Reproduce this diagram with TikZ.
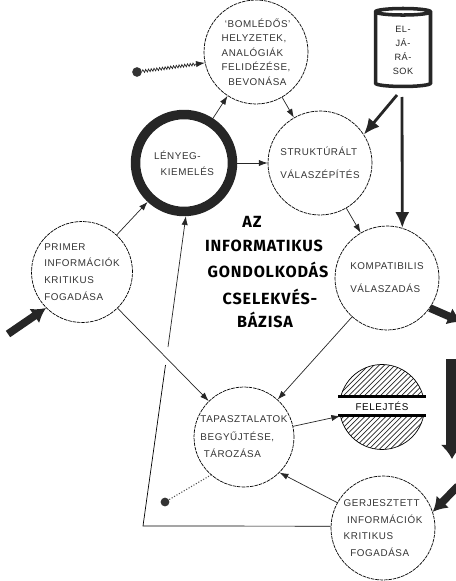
\documentclass[tikz,border=0pt]{standalone}
\usepackage{fontspec}
\setmainfont{Liberation Sans}[LetterSpace=6]
\newfontfamily\titlefont{Fira Sans}[LetterSpace=5]
\usetikzlibrary{arrows,arrows.meta,patterns,shapes.geometric,decorations.pathmorphing}
\tikzset{
stepcirc/.style={circle,draw,thin,dash pattern=on 2pt off .5pt,minimum size=2.08cm,inner sep=0pt,align=left,
  font=\fontsize{5.6}{#1}\selectfont,text=black!80},
stepcirc/.default=9,
flow/.style={thin,black!85,-{Latex[length=5pt,width=3.5pt]}},
heavy/.style={line width=1.6pt,black!85,-{Latex[length=9pt,width=8pt]}},
massive/.style={line width=4.4pt,black!85,-{Latex[length=8pt,width=10pt]}},
titleline/.style={font=\titlefont\bfseries\fontsize{9.2}{10}\selectfont,inner sep=0pt},
pinhead/.style={circle,fill=black!80,minimum size=5.5pt,inner sep=0pt}
}
\begin{document}
\begin{tikzpicture}[x=0.02cm,y=-0.02cm,semithick]
\useasboundingbox(0,0)rectangle(456,581);
% circles
\node[stepcirc=8.2](recall)at(256,52){\ `BOMLÉDŐS'\\HELYZETEK,\\ANALÓGIÁK\\FELIDÉZÉSE,\\\ \ BEVONÁSA};
\node[stepcirc,draw=black!85,line width=5.4pt,solid,minimum size=1.94cm](lenyeg)at(184,163){LÉNYEG-\\\ \ KIEMELÉS};
\node[stepcirc=13](strukt)at(320,163){STRUKTÚRÁLT\\VÁLASZÉPÍTÉS};
\node[stepcirc=9.5,minimum size=2.02cm](primer)at(82,272){PRIMER\\INFORMÁCIÓK\\KRITIKUS\\FOGADÁSA};
\node[stepcirc=13](kompat)at(387,278){KOMPATIBILIS\\VÁLASZADÁS};
\node[stepcirc=10,minimum size=2cm](tapaszt)at(244,437){TAPASZTALATOK\\BEGYŰJTÉSE,\\\ TÁROZÁSA};
\node[stepcirc=9.5](gerj)at(383,528){GERJESZTETT\\\ INFORMÁCIÓK\\KRITIKUS\\\ \ FOGADÁSA};
\node[circle,draw,thin,pattern=north east lines,pattern color=black!85,minimum size=1.7cm,inner sep=0pt](felejt)at(382,407){};
\node[fill=white,minimum width=1.72cm,minimum height=.34cm,inner sep=0pt,font=\fontsize{5.6}{6}\selectfont](band)at(382,406){FELEJTÉS};
\draw[line width=1.7pt](band.north west)--(band.north east)(band.south west)--(band.south east);
% store
\node[cylinder,shape border rotate=90,draw,line width=2pt,black!85,aspect=.32,minimum width=1.1cm,minimum height=1.56cm,inner sep=0pt,
  align=center,font=\fontsize{5.2}{8}\selectfont](eljar)at(403,50){EL-\\JÁ-\\RÁ-\\SOK};
% title
\node[titleline](tA)at(252,222){AZ};
\node[titleline](tB)at(264,246){INFORMATIKUS};
\node[titleline](tC)at(268,270){GONDOLKODÁS};
\node[titleline](tD)at(270,297){CSELEKVÉS-};
\node[titleline](tE)at(265,320){BÁZISA};
% free ends
\coordinate(inL)at(8,334);
\coordinate(outR)at(462,322);
\coordinate(downA)at(452,359);
\coordinate(downB)at(452,459);
\coordinate(inG)at(458,486);
\coordinate(eljarA)at(397,95);
\coordinate(eljarB)at(402,97);
\coordinate(backA)at(143,526);
\coordinate(backB)at(165.5,365);
\coordinate(backC)at(168,347);
\node[pinhead](pinA)at(137,72){};
\node[pinhead,minimum size=5pt](pinB)at(165,502){};
% connectors
\draw[flow](lenyeg)--(recall);
\draw[flow](recall)--(strukt);
\draw[flow](lenyeg)--(strukt);
\draw[flow](primer)--(lenyeg);
\draw[flow](primer)--(tapaszt);
\draw[flow](strukt)--(kompat);
\draw[flow](kompat)--(tapaszt);
\draw[flow](tapaszt)--(felejt);
\draw[flow](gerj.151)--(tapaszt.-45);
\draw[thin](gerj.178)--(backA)--(backB);
\draw[flow](backC)--(lenyeg.-88);
\draw[heavy](eljarA)--(strukt.33);
\draw[heavy](eljarB)--(kompat.73);
\draw[massive](inL)--(primer.-135);
\draw[massive](kompat.-35)--(outR);
\draw[massive,line width=7pt,-{Latex[length=8pt,width=13pt]}](downA)--(downB);
\draw[massive](inG)--(gerj.18);
\draw[flow,decorate,decoration={zigzag,amplitude=.8pt,segment length=1.6pt,post=lineto,post length=5pt}](pinA)--(recall.-168);
\draw[densely dotted,black!70](pinB)--(tapaszt.-131);
\end{tikzpicture}
\end{document}
